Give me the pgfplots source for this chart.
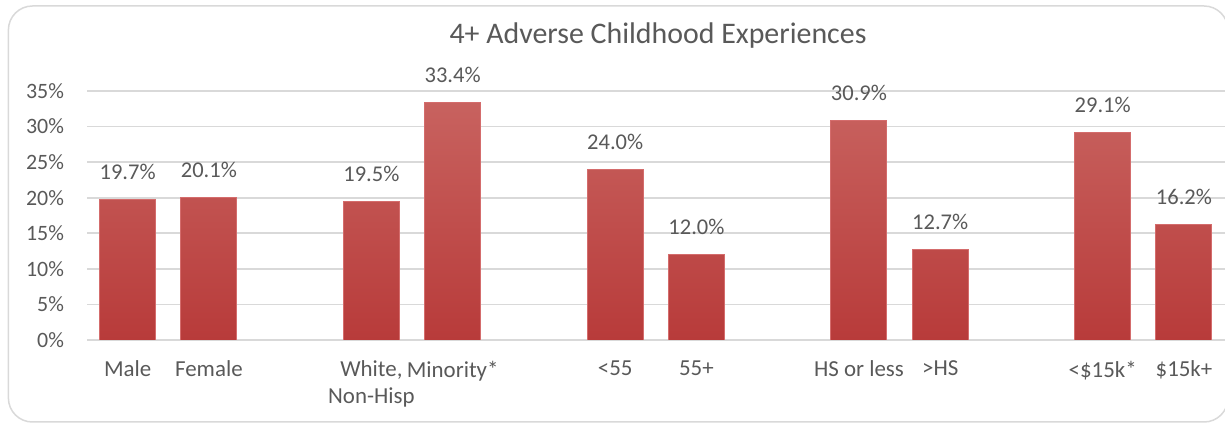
\documentclass[border=0pt]{standalone}
\usepackage{fontspec}
\setmainfont{Carlito}
\usepackage{pgfplots}
\pgfplotsset{compat=1.18}
\definecolor{txt}{HTML}{595959}
\definecolor{gridgray}{HTML}{D9D9D9}
\definecolor{barTop}{HTML}{C8625F}
\definecolor{barBot}{HTML}{B83B3A}
\definecolor{barEdge}{HTML}{D46C6C}
\begin{document}
\begin{tikzpicture}
\useasboundingbox (0,0) rectangle (612.5bp,213bp);
% outer chart frame
\draw[gridgray, line width=0.75bp, rounded corners=12bp] (4.2bp,2bp) rectangle (614bp,210bp);
\node[anchor=base, text=txt, font=\fontsize{15}{18}\selectfont] at (329bp,191.4bp) {4+ Adverse Childhood Experiences};
\begin{axis}[
    at={(43.5bp,43bp)}, anchor=south west,
    scale only axis, width=568.8bp, height=124.5bp,
    ybar, bar width=28bp,
    xmin=-0.5, xmax=13.5, ymin=0, ymax=35,
    xtick={0,1,3,4,6,7,9,10,12,13},
    xticklabels={Male,Female,{White,\\Non-Hisp},Minority*,<55,55+,HS or less,>HS,<\$15k*,\$15k+},
    ytick={0,5,...,35},
    yticklabel={\pgfmathprintnumber{\tick}\%},
    /pgf/number format/assume math mode=true,
    major tick length=0pt,
    ymajorgrids,
    grid style={gridgray, line width=0.8bp},
    axis line style={draw=none},
    yticklabel style={text=txt, font=\fontsize{11}{13}\selectfont, anchor=east, xshift=-8bp},
    xticklabel style={text=txt, font=\fontsize{11.5}{13.5}\selectfont, align=center, yshift=-7bp},
    nodes near coords={\pgfmathprintnumber[fixed,fixed zerofill,precision=1]{\pgfplotspointmeta}\%},
    nodes near coords style={anchor=base, yshift=10bp, text=txt, font=\fontsize{11.3}{13}\selectfont},
]
\addplot[draw=barEdge, line width=0.5bp, top color=barTop, bottom color=barBot]
    coordinates {(0,19.7)(1,20.1)(3,19.5)(4,33.4)(6,24.0)(7,12.0)(9,30.9)(10,12.7)(12,29.1)(13,16.2)};
\end{axis}
\end{tikzpicture}
\end{document}
